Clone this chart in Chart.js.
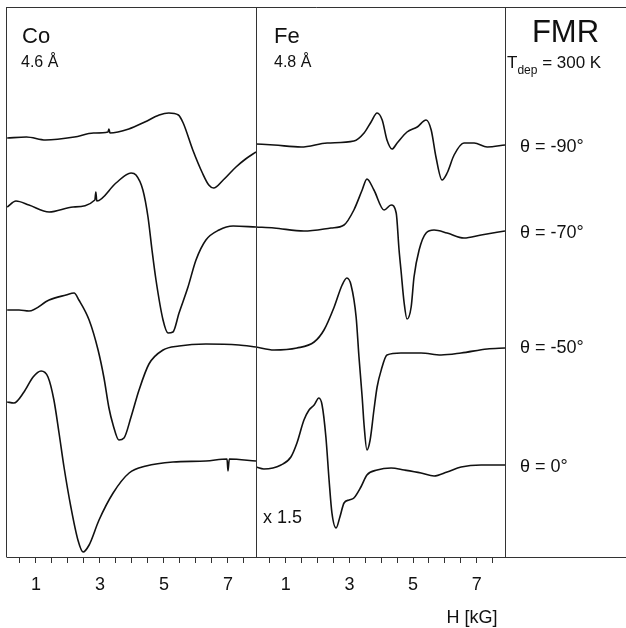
<!DOCTYPE html>
<html>
<head>
<meta charset="utf-8">
<script src="https://cdn.jsdelivr.net/npm/chart.js@4.4.1/dist/chart.umd.min.js"></script>
<style>
  html, body { margin: 0; padding: 0; background: #fff; }
  #fmr { display: block; }
</style>
</head>
<body>
<canvas id="fmr" width="626" height="628"></canvas>
<script>
// field axis H [kG], signal in arbitrary units (curves already stacked with their offsets)
const tickLabels = [1, 3, 5, 7];
const angleLabels = ['θ = -90°', 'θ = -70°', 'θ = -50°', 'θ = 0°'];
const angleBaseline = [152, 238, 353, 472];

// Co 4.6 Å
const coM90 = [[0.1,419],[0.7,420],[1.3,417],[2.2,420],[2.8,424],[3.25,425],[3.28,428],[3.31,424],[3.9,428],[4.4,435],[4.85,442],[5.15,444],[5.45,442],[5.6,434],[5.9,407],[6.2,384],[6.4,372],[6.55,369],[6.85,377],[7.25,390],[7.55,398],[7.875,405]];
const coM70 = [[0.1,350],[0.375,356],[0.78,352],[1.41,345],[2.16,350],[2.84,357],[2.87,365],[2.9,356],[3.5,374],[3.97,384],[4.125,382],[4.34,367],[4.5,340],[4.625,307],[4.75,277],[4.97,237],[5.125,224],[5.28,225],[5.47,244],[5.75,270],[6.0,297],[6.31,317],[6.72,327],[7.16,331],[7.875,330]];
const coM50 = [[0.1,247],[0.47,247],[0.78,246],[1.41,257],[1.94,262],[2.19,264],[2.34,257],[2.66,237],[2.94,207],[3.125,179],[3.28,149],[3.41,132],[3.59,117],[3.75,119],[3.97,140],[4.22,167],[4.53,193],[4.97,207],[5.47,211],[6.31,213],[7.34,212],[7.875,210]];
const co0 = [[0.1,155],[0.31,154],[0.625,165],[0.91,180],[1.16,186],[1.375,180],[1.56,157],[1.72,124],[1.875,90],[2.09,50],[2.31,17],[2.47,5],[2.66,12],[2.97,37],[3.41,64],[3.91,84],[4.44,91],[5.28,95],[6.31,96],[6.97,98],[7.0,86],[7.04,98],[7.875,96]];

// Fe 4.8 Å
const feM90 = [[0.06,413],[0.63,412],[1.48,410],[2.3,414],[3.14,416],[3.46,424],[3.68,435],[3.87,444],[4.03,437],[4.18,417],[4.34,408],[4.5,414],[4.81,425],[5.13,430],[5.41,437],[5.57,427],[5.72,400],[5.91,377],[6.07,384],[6.29,402],[6.6,414],[6.92,414],[7.33,410],[7.89,412]];
const feM70 = [[0.06,330],[0.63,329],[1.57,326],[2.42,329],[2.83,332],[3.14,347],[3.4,367],[3.55,378],[3.77,367],[4.09,347],[4.31,352],[4.47,344],[4.56,307],[4.62,287],[4.72,254],[4.81,238],[4.94,250],[5.03,280],[5.19,307],[5.41,324],[5.66,327],[6.07,324],[6.6,319],[7.14,322],[7.89,326]];
const feM50 = [[0.06,210],[0.63,207],[1.35,209],[1.89,215],[2.2,227],[2.52,250],[2.77,272],[2.92,279],[3.05,272],[3.21,240],[3.3,200],[3.4,160],[3.46,132],[3.55,107],[3.65,117],[3.77,147],[3.87,170],[4.0,187],[4.18,202],[4.62,204],[5.25,204],[5.88,202],[6.51,204],[7.33,208],[7.89,209]];
const fe0 = [[0.06,90],[0.31,88],[0.85,92],[1.16,100],[1.35,114],[1.57,137],[1.73,147],[1.89,152],[2.04,159],[2.14,152],[2.26,120],[2.36,77],[2.45,44],[2.58,29],[2.7,40],[2.83,54],[2.99,57],[3.14,59],[3.36,70],[3.55,82],[3.87,87],[4.31,89],[4.72,87],[5.25,84],[5.66,81],[6.07,85],[6.51,90],[7.14,92],[7.89,92]];

const FONT = '"Liberation Sans", Arial, Helvetica, sans-serif';
const INK = '#111';

function trace(points, axis) {
    return {
        data: points.map(p => ({x: p[0], y: p[1]})),
        xAxisID: axis,
        borderColor: INK,
        borderWidth: 1.6,
        pointRadius: 0,
        cubicInterpolationMode: 'monotone',
        fill: false
    };
}

function fieldAxis(min, max) {
    return {
        type: 'linear',
        position: 'bottom',
        stack: 'field',
        stackWeight: 1,
        min: min,
        max: max,
        afterFit: scale => { scale.height = 71; },
        grid: { drawOnChartArea: false, drawTicks: true, tickLength: 6, color: '#333', lineWidth: 1 },
        border: { display: false },
        ticks: {
            stepSize: 0.5,
            includeBounds: false,
            autoSkip: false,
            maxRotation: 0,
            padding: 11,
            color: INK,
            font: { family: FONT, size: 18 },
            callback: v => tickLabels.includes(v) ? String(v) : ''
        }
    };
}

// frame lines and all the free text labels
const panelDecor = {
    id: 'panelDecor',
    afterDraw(chart) {
        const c = chart.ctx;
        const area = chart.chartArea;
        const co = chart.scales.xCo, fe = chart.scales.xFe;
        const W = chart.width;
        c.save();
        c.strokeStyle = '#333';
        c.lineWidth = 1;
        c.beginPath();
        c.moveTo(area.left - 0.5, area.top + 0.5); c.lineTo(W, area.top + 0.5);
        c.moveTo(area.left - 0.5, area.bottom + 0.5); c.lineTo(W, area.bottom + 0.5);
        c.moveTo(area.left - 0.5, area.top); c.lineTo(area.left - 0.5, area.bottom);
        c.moveTo(Math.round(co.right) + 0.5, area.top); c.lineTo(Math.round(co.right) + 0.5, area.bottom);
        c.moveTo(Math.round(fe.right) + 0.5, area.top); c.lineTo(Math.round(fe.right) + 0.5, area.bottom);
        c.stroke();

        c.fillStyle = INK;
        c.textBaseline = 'alphabetic';
        c.textAlign = 'left';
        c.font = '22px ' + FONT;
        c.fillText('Co', co.left + 15, 43);
        c.fillText('Fe', fe.left + 18, 43);
        c.font = '16px ' + FONT;
        c.fillText('4.6 Å', co.left + 14, 67);
        c.fillText('4.8 Å', fe.left + 18, 67);

        c.font = '18px ' + FONT;
        angleLabels.forEach((t, i) => c.fillText(t, fe.right + 15, angleBaseline[i]));
        c.fillText('x 1.5', fe.left + 7, 523);

        // H [kG] axis title, under the right end of the Fe panel
        c.fillText('H [kG]', fe.getPixelForValue(6.05), 623);

        const labelMid = (fe.right + W) / 2;
        c.textAlign = 'center';
        c.font = '31px ' + FONT;
        c.fillText('FMR', labelMid, 42);

        c.textAlign = 'left';
        let x = fe.right + 2;
        c.font = '17px ' + FONT;
        c.fillText('T', x, 68);
        x += c.measureText('T').width;
        c.font = '12px ' + FONT;
        c.fillText('dep', x, 74);
        x += c.measureText('dep').width;
        c.font = '17px ' + FONT;
        c.fillText(' = 300 K', x, 68);
        c.restore();
    }
};

const ctx = document.getElementById('fmr').getContext('2d');
const fmrChart = new Chart(ctx, {
    type: 'line',
    data: {
        datasets: [
            trace(coM90, 'xCo'), trace(coM70, 'xCo'), trace(coM50, 'xCo'), trace(co0, 'xCo'),
            trace(feM90, 'xFe'), trace(feM70, 'xFe'), trace(feM50, 'xFe'), trace(fe0, 'xFe')
        ]
    },
    options: {
        responsive: false,
        animation: false,
        layout: { padding: { left: 7, top: 7, right: 121, bottom: 0 } },
        plugins: {
            legend: { display: false },
            tooltip: { enabled: false }
        },
        scales: {
            y: { display: false, min: 0, max: 550 },
            xCo: fieldAxis(0.094, 7.875),
            xFe: fieldAxis(0.063, 7.89)
        }
    },
    plugins: [panelDecor]
});
</script>
</body>
</html>
